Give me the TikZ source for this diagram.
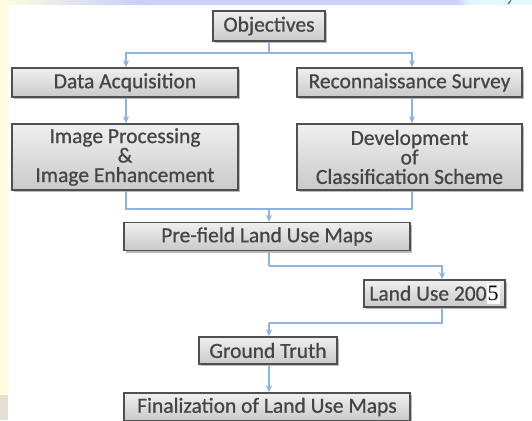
\documentclass[tikz,border=0pt]{standalone}
\usepackage{fontspec}
\setmainfont{Carlito}[FakeBold=0.7]
\newfontfamily\digitfont{Liberation Serif}
\usetikzlibrary{arrows.meta,shadows,calc}

\definecolor{boxline}{HTML}{505050}
\definecolor{boxtext}{HTML}{454545}
\definecolor{flow}{HTML}{8DB3E2}
\definecolor{paleyellow}{HTML}{FFFDE0}
\definecolor{lavender}{HTML}{C9CFF9}
\definecolor{palecyan}{HTML}{E2F8FE}
\definecolor{beige}{HTML}{E6E0D2}

\tikzset{
  stepbox/.style={
    draw=boxline, line width=1.4pt, rectangle,
    top color=gray!12, bottom color=gray!42,
    text=boxtext, align=center, inner sep=0pt,
    font=\fontsize{21.5}{19.5}\selectfont,
    drop shadow={shadow xshift=2pt, shadow yshift=-2pt, fill=black!45, opacity=.6}
  },
  flowline/.style={draw=flow, line width=1.3pt,
    -{Stealth[length=7pt,width=6pt,inset=2pt]}},
  joinline/.style={draw=flow, line width=1.3pt}
}

\begin{document}
\begin{tikzpicture}[x=1pt,y=-1pt]
\useasboundingbox (0,0) rectangle (532,420);
\clip (0,0) rectangle (532,420);

% slide background strips
\fill[white] (0,0) rectangle (532,420);
\fill[paleyellow] (0,0) rectangle (8,395);
\fill[left color=paleyellow, right color=lavender] (0,0) rectangle (140,5);
\fill[lavender] (140,0) rectangle (455,5);
\fill[left color=lavender, right color=palecyan] (455,0) rectangle (470,5);
\fill[palecyan] (470,0) rectangle (532,5);
\draw[black!70, line width=1pt] (508,4) -- (511,0.5);
\fill[beige] (0,395) rectangle (8,420);

% boxes
\node[stepbox, minimum width=112, minimum height=30] (obj) at (269,26) {Objectives};
\node[stepbox, minimum width=226, minimum height=29] (daq) at (125,82.5) {Data Acquisition};
\node[stepbox, minimum width=225, minimum height=29] (rec) at (409.5,82.5) {Reconnaissance Survey};
\node[stepbox, minimum width=226, minimum height=66] (imp) at (125,157) {Image Processing\\\&\\Image Enhancement};
\node[stepbox, minimum width=225, minimum height=66] (dev) at (409.5,157) {Development\\of\\Classification Scheme};
\node[stepbox, minimum width=286, minimum height=28] (pre) at (267,236.5) {Pre-field Land Use Maps};
\node[stepbox, minimum width=141, minimum height=27] (lu) at (434.5,293.5)
  {Land Use 200\colorbox{white}{\kern-2pt\color{black}\digitfont\fontsize{22}{22}\selectfont 5\kern-2pt}};
\node[stepbox, minimum width=138, minimum height=27] (gt) at (268,350.5) {Ground Truth};
\node[stepbox, minimum width=286, minimum height=28] (fin) at (267,407) {Finalization of Land Use Maps};

% junction points
\coordinate (j1) at (269,53);
\coordinate (j2) at (269,209);
\coordinate (j3) at (269,266);
\coordinate (j4) at (269,323);

% connectors
\draw[joinline] (obj.south) -- (j1);
\draw[flowline] (j1) -| ([xshift=1pt]daq.north);
\draw[flowline] (j1) -| ([xshift=2.5pt]rec.north);
\draw[flowline] ([xshift=1pt]daq.south) -- ([xshift=1pt]imp.north);
\draw[flowline] ([xshift=2.5pt]rec.south) -- ([xshift=2.5pt]dev.north);
\draw[joinline] ([xshift=1pt]imp.south) |- (j2);
\draw[joinline] ([xshift=2.5pt]dev.south) |- (j2);
\draw[flowline] (j2) -- (j2 |- pre.north);
\draw[joinline] (j3 |- pre.south) -- (j3);
\draw[flowline] (j3) -| ([xshift=7.5pt]lu.north);
\draw[joinline] ([xshift=7.5pt]lu.south) |- (j4);
\draw[flowline] (j4) -- (j4 |- gt.north);
\draw[flowline] (j4 |- gt.south) -- (j4 |- fin.north);
\end{tikzpicture}
\end{document}
